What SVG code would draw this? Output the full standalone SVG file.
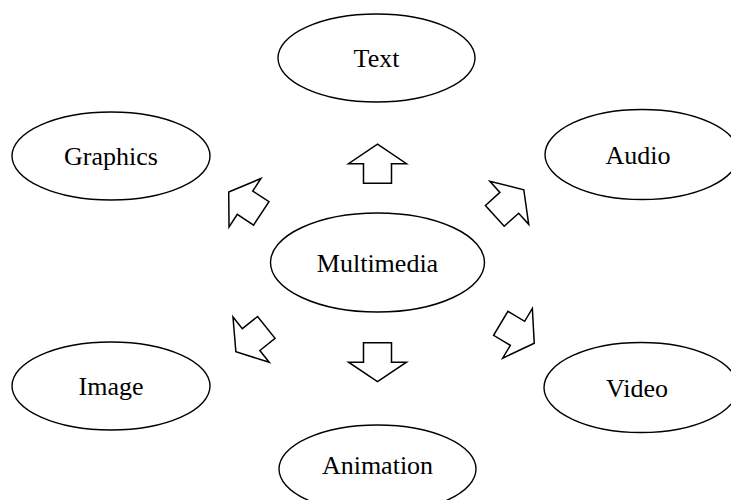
<svg xmlns="http://www.w3.org/2000/svg" xmlns:xlink="http://www.w3.org/1999/xlink" width="731" height="500" viewBox="0 0 731 500">
<style>
.node ellipse{fill:#fff;stroke:#000;stroke-width:1.4}
.node text{font-family:"Liberation Serif","Times New Roman",serif;font-size:26px;fill:#000;text-anchor:middle}
.arr{fill:#fff;stroke:#000;stroke-width:1.5;stroke-linejoin:miter}
</style>
<defs>
<path id="blk" d="M0,-19.5 L29,0 L14,0 L14,19.5 L-14,19.5 L-14,0 L-29,0 Z"/>
</defs>
<rect width="731" height="500" fill="#fff"/>
<g id="connectors">
<use xlink:href="#blk" class="arr" transform="translate(377.5,163.7)"/>
<use xlink:href="#blk" class="arr" transform="translate(377.5,362.2) rotate(180)"/>
<use xlink:href="#blk" class="arr" transform="translate(245,202.7) rotate(-56.6)"/>
<use xlink:href="#blk" class="arr" transform="translate(509.3,202.8) rotate(48)"/>
<use xlink:href="#blk" class="arr" transform="translate(251.1,339.6) rotate(-128.7)"/>
<use xlink:href="#blk" class="arr" transform="translate(517.5,333.3) rotate(120.8)"/>
</g>
<g id="multimedia" class="node"><ellipse cx="377.5" cy="262.5" rx="107" ry="49.5"/><text x="377.5" y="272">Multimedia</text></g>
<g id="text" class="node"><ellipse cx="376.5" cy="58" rx="98.5" ry="44"/><text x="376.5" y="67">Text</text></g>
<g id="graphics" class="node"><ellipse cx="111" cy="156" rx="99" ry="44"/><text x="111" y="165">Graphics</text></g>
<g id="audio" class="node"><ellipse cx="642" cy="154.5" rx="97" ry="45"/><text x="638" y="164">Audio</text></g>
<g id="image" class="node"><ellipse cx="111" cy="386" rx="99" ry="44"/><text x="111" y="395">Image</text></g>
<g id="video" class="node"><ellipse cx="641" cy="387.5" rx="97" ry="45"/><text x="637" y="397">Video</text></g>
<g id="animation" class="node"><ellipse cx="377.5" cy="469" rx="98.5" ry="44"/><text x="377.5" y="474">Animation</text></g>
</svg>
